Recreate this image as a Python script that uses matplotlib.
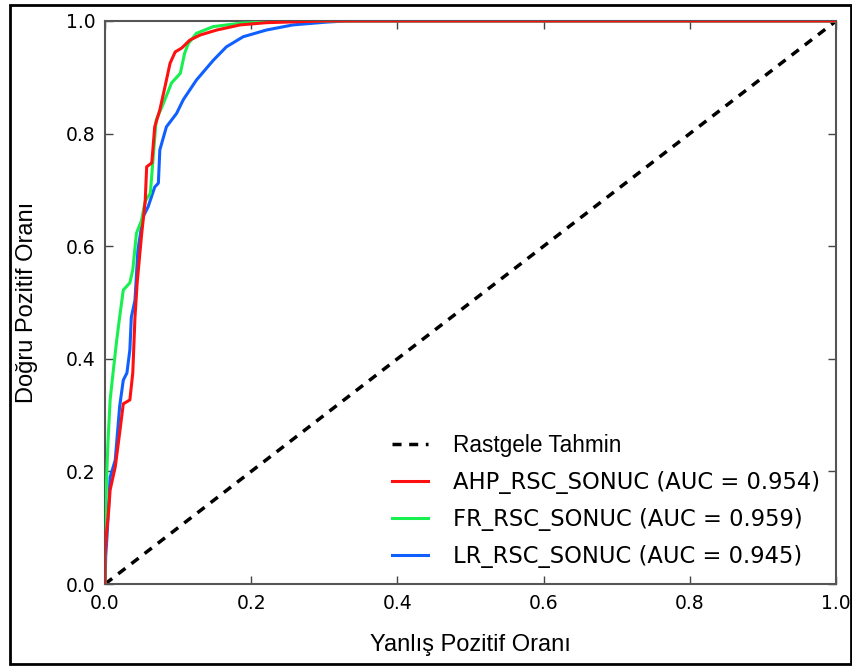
import matplotlib
matplotlib.use("Agg")
import matplotlib.pyplot as plt
from matplotlib.patches import Rectangle

# ROC noktalari (gorselden okunmustur)
ahp_fpr = [0.0, 0.0, 0.002, 0.005, 0.007, 0.014, 0.020, 0.025, 0.034, 0.038, 0.041, 0.044,
           0.050, 0.055, 0.057, 0.064, 0.068, 0.075, 0.082, 0.089, 0.096, 0.105, 0.116,
           0.130, 0.153, 0.185, 0.221, 0.300, 1.0]
ahp_tpr = [0.0, 0.05, 0.09, 0.13, 0.167, 0.208, 0.268, 0.320, 0.327, 0.375, 0.474, 0.535,
           0.620, 0.680, 0.741, 0.748, 0.812, 0.842, 0.883, 0.925, 0.945, 0.952, 0.966,
           0.975, 0.984, 0.993, 0.997, 1.0, 1.0]

fr_fpr = [0.0, 0.0, 0.002, 0.004, 0.007, 0.011, 0.016, 0.020, 0.025, 0.034, 0.038, 0.043,
          0.050, 0.055, 0.062, 0.070, 0.080, 0.091, 0.103, 0.109, 0.114, 0.125, 0.148,
          0.185, 0.250, 1.0]
fr_tpr = [0.0, 0.10, 0.18, 0.25, 0.327, 0.375, 0.433, 0.474, 0.522, 0.535, 0.558, 0.623,
          0.646, 0.680, 0.694, 0.824, 0.854, 0.890, 0.907, 0.943, 0.960, 0.978, 0.990,
          0.996, 1.0, 1.0]

lr_fpr = [0.0, 0.001, 0.003, 0.007, 0.014, 0.020, 0.025, 0.030, 0.034, 0.036, 0.041, 0.045,
          0.052, 0.059, 0.068, 0.073, 0.075, 0.084, 0.098, 0.107, 0.125, 0.148, 0.166,
          0.189, 0.221, 0.257, 0.303, 0.330, 1.0]
lr_tpr = [0.0, 0.05, 0.09, 0.19, 0.22, 0.315, 0.362, 0.375, 0.416, 0.474, 0.504, 0.593,
          0.652, 0.670, 0.705, 0.712, 0.771, 0.812, 0.836, 0.860, 0.895, 0.930, 0.954,
          0.972, 0.984, 0.993, 0.998, 1.0, 1.0]

labels = ["AHP_RSC_SONUC (AUC = 0.954)", "FR_RSC_SONUC (AUC = 0.959)", "LR_RSC_SONUC (AUC = 0.945)"]
colors = ["#ff1010", "#18f050", "#1060ff"]

plt.rcParams['font.family'] = ['DejaVu Sans']

fig = plt.figure(figsize=(8.53, 6.66), dpi=100)
ax = fig.add_axes([0.1231, 0.1231, 0.857, 0.8454])

# cerceve
fig.patches.append(Rectangle((10/853, 2/666), 841/853, 659/666, transform=fig.transFigure,
                             fill=False, edgecolor="black", linewidth=2))

ax.plot([0, 1], [0, 1], color="black", linestyle="--", dashes=(2.6, 2.2), linewidth=2.5,
        label="Rastgele Tahmin", zorder=1)
ax.plot(ahp_fpr, ahp_tpr, color=colors[0], linewidth=2.2, label=labels[0], zorder=4)
ax.plot(fr_fpr, fr_tpr, color=colors[1], linewidth=2.2, label=labels[1], zorder=3)
ax.plot(lr_fpr, lr_tpr, color=colors[2], linewidth=2.2, label=labels[2], zorder=2)

ax.set_xlim(0, 1)
ax.set_ylim(0, 1)
ax.set_xticks([0, 0.2, 0.4, 0.6, 0.8, 1.0])
ax.set_yticks([0, 0.2, 0.4, 0.6, 0.8, 1.0])
ax.tick_params(direction="in", top=True, right=True, length=6, width=1, labelsize=13.5,
               color="#444444", pad=7)
for s in ax.spines.values():
    s.set_color("#555555")
    s.set_linewidth(1.5)

ax.set_xlabel("Yanlış Pozitif Oranı", family="Liberation Sans", fontsize=17, labelpad=15)
ax.set_ylabel("Doğru Pozitif Oranı", family="Liberation Sans", fontsize=17, labelpad=20)

leg = ax.legend(loc="lower right", frameon=False, fontsize=16.3, handlelength=1.6,
                handletextpad=1.1, labelspacing=0.62, borderaxespad=0.3)
leg.get_texts()[0].set_family("Liberation Sans")

plt.savefig("out.png", dpi=100)
plt.close()
